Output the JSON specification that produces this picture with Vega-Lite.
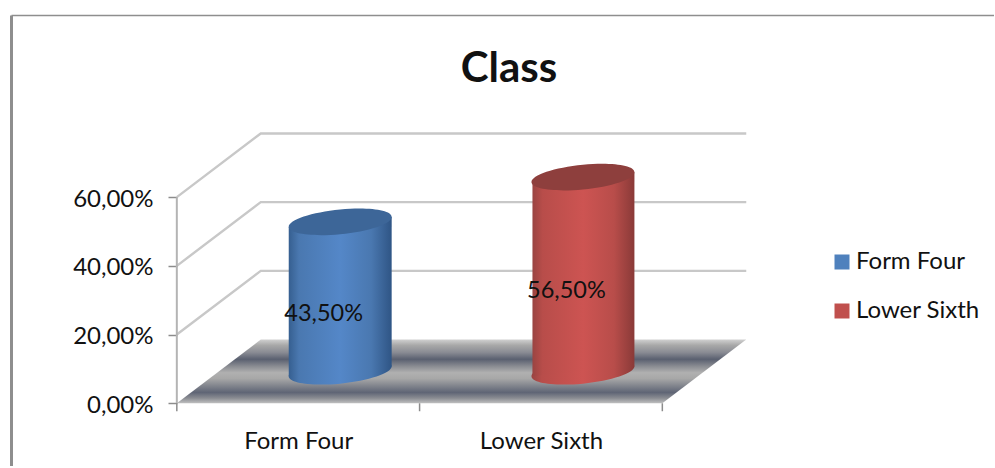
{
  "$schema": "https://vega.github.io/schema/vega-lite/v6.json",
  "width": 995,
  "height": 468,
  "padding": 0,
  "autosize": {"type": "fit", "contains": "padding"},
  "background": "white",
  "config": {
    "view": {"stroke": null},
    "font": "Lato",
    "locale": {"number": {"decimal": ",", "thousands": ".", "grouping": [3], "currency": ["", " €"]}}
  },
  "encoding": {
    "x": {
      "field": "x", "type": "quantitative", "title": null,
      "scale": {"domain": [-0.7284, 3.36626], "nice": false, "zero": false},
      "axis": {
        "values": [0.5, 1.5], "offset": -63, "domain": false, "grid": false, "ticks": false,
        "labelExpr": "datum.value < 1 ? 'Form Four' : 'Lower Sixth'",
        "labelFontSize": 24, "labelColor": "#111111", "labelPadding": 26, "labelFont": "Lato"
      }
    },
    "y": {
      "field": "y", "type": "quantitative", "title": null,
      "scale": {"domain": [-0.18261, 1.17391], "nice": false, "zero": false},
      "axis": {
        "values": [0, 0.2, 0.4, 0.6], "offset": -177, "format": ".2%", "domain": false, "grid": false,
        "tickColor": "#8c8c8c", "tickSize": 9, "tickWidth": 1.5,
        "labelFontSize": 24, "labelColor": "#111111", "labelPadding": 15, "labelFont": "Lato", "labelOffset": 2
      }
    }
  },
  "layer": [
    {
      "description": "Outer frame of the chart area: left edge",
      "data": {"values": [{"x": -0.681, "y": -0.18261, "y2": 1.129}]},
      "mark": {"type": "rule", "color": "#8e8e8e", "strokeWidth": 3},
      "encoding": {"y2": {"field": "y2"}}
    },
    {
      "description": "Outer frame of the chart area: top edge",
      "data": {"values": [{"x": -0.681, "x2": 3.36626, "y": 1.129}]},
      "mark": {"type": "rule", "color": "#8e8e8e", "strokeWidth": 1.5},
      "encoding": {"x2": {"field": "x2"}}
    },
    {
      "description": "Wall gridlines running back from the value axis and across the rear wall",
      "data": {"values": [
        {"line": "20", "x": 0, "y": 0.2},
        {"line": "20", "x": 0.3457, "y": 0.3855},
        {"line": "20", "x": 2.3457, "y": 0.3855},
        {"line": "40", "x": 0, "y": 0.4},
        {"line": "40", "x": 0.3457, "y": 0.5855},
        {"line": "40", "x": 2.3457, "y": 0.5855},
        {"line": "60", "x": 0, "y": 0.6},
        {"line": "60", "x": 0.3457, "y": 0.7855},
        {"line": "60", "x": 2.3457, "y": 0.7855}
      ]},
      "mark": {"type": "line", "color": "#c8c8c8", "strokeWidth": 2.4},
      "encoding": {"detail": {"field": "line"}}
    },
    {
      "description": "Value axis line",
      "data": {"values": [{"x": 0, "y": 0, "y2": 0.6}]},
      "mark": {"type": "rule", "color": "#b4b4b4", "strokeWidth": 2},
      "encoding": {"y2": {"field": "y2"}}
    },
    {
      "description": "Shaded chart floor",
      "data": {"values": [
        {"x": 0.3457, "x2": 2.3457, "y": 0.1855},
        {"x": 0, "x2": 2, "y": 0}
      ]},
      "mark": {
        "type": "area", "orient": "horizontal",
        "color": {
          "x1": 0, "y1": 0, "x2": 0, "y2": 1, "gradient": "linear",
          "stops": [
            {"offset": 0, "color": "#d0d0d0"},
            {"offset": 0.09, "color": "#a8a8a8"},
            {"offset": 0.2, "color": "#8a8c94"},
            {"offset": 0.31, "color": "#5a6070"},
            {"offset": 0.42, "color": "#8a8c92"},
            {"offset": 0.52, "color": "#b0b0b0"},
            {"offset": 0.61, "color": "#a8a8a8"},
            {"offset": 0.83, "color": "#5f6575"},
            {"offset": 0.92, "color": "#8a8c92"},
            {"offset": 1, "color": "#c0c0c0"}
          ]
        }
      },
      "encoding": {"x2": {"field": "x2"}}
    },
    {
      "description": "Tick marks under the category axis",
      "data": {"values": [
        {"x": 0, "y": 0, "y2": -0.0232},
        {"x": 1, "y": 0, "y2": -0.0232},
        {"x": 2, "y": 0, "y2": -0.0232}
      ]},
      "mark": {"type": "rule", "color": "#8c8c8c", "strokeWidth": 1.5},
      "encoding": {"y2": {"field": "y2"}}
    },
    {
      "description": "Zero-sized marks that carry the colour legend",
      "data": {"values": [
        {"series": "Form Four", "x": 0.5, "y": 0.2},
        {"series": "Lower Sixth", "x": 1.5, "y": 0.2}
      ]},
      "mark": {"type": "point", "filled": true, "opacity": 1},
      "encoding": {
        "size": {"value": 0},
        "color": {
          "field": "series", "type": "nominal",
          "scale": {"domain": ["Form Four", "Lower Sixth"], "range": ["#4f81bd", "#c0504d"]},
          "legend": {
            "title": null, "orient": "none", "legendX": 830, "legendY": 250, "symbolType": "square",
            "symbolSize": 225, "symbolStrokeWidth": 0, "labelFontSize": 24, "labelColor": "#111111",
            "labelFont": "Lato", "rowPadding": 25, "labelOffset": 2, "symbolOpacity": 1
          }
        }
      }
    },
    {
      "description": "Blue cylinder, base cap",
      "data": {"values": [{"x": 0.5, "y": 0}]},
      "mark": {
        "type": "point", "filled": true, "xOffset": 42, "yOffset": -32, "size": 10609, "opacity": 1, "strokeWidth": 0,
        "shape": "M1,-.096 C1,.037 .552,.187 0,.24 C-.552,.293 -1,.229 -1,.096 C-1,-.037 -.552,-.187 0,-.24 C.552,-.293 1,-.229 1,-.096 Z",
        "color": {"x1": 0, "y1": 0, "x2": 1, "y2": 0, "gradient": "linear", "stops": [
          {"offset": 0, "color": "#365f90"}, {"offset": 0.1, "color": "#4a78b0"}, {"offset": 0.5, "color": "#5487c8"}, {"offset": 0.8, "color": "#4a78b0"}, {"offset": 1, "color": "#2f5585"}
        ]}
      }
    },
    {
      "description": "Red cylinder, base cap",
      "data": {"values": [{"x": 1.5, "y": 0}]},
      "mark": {
        "type": "point", "filled": true, "xOffset": 42, "yOffset": -32, "size": 10609, "opacity": 1, "strokeWidth": 0,
        "shape": "M1,-.096 C1,.037 .552,.187 0,.24 C-.552,.293 -1,.229 -1,.096 C-1,-.037 -.552,-.187 0,-.24 C.552,-.293 1,-.229 1,-.096 Z",
        "color": {"x1": 0, "y1": 0, "x2": 1, "y2": 0, "gradient": "linear", "stops": [
          {"offset": 0, "color": "#9a4442"}, {"offset": 0.1, "color": "#b84d4a"}, {"offset": 0.5, "color": "#cd5452"}, {"offset": 0.8, "color": "#b84d4a"}, {"offset": 1, "color": "#8a3a38"}
        ]}
      }
    },
    {
      "description": "Blue cylinder, body",
      "data": {"values": [
        {"x": 0.461, "value": 0.435, "lean": -0.0145},
        {"x": 0.885, "value": 0.435, "lean": 0.0145}
      ]},
      "transform": [
        {"calculate": "datum.value + datum.lean + 0.0928", "as": "y"},
        {"calculate": "datum.lean + 0.0928", "as": "y2"}
      ],
      "mark": {
        "type": "area",
        "color": {"x1": 0, "y1": 0, "x2": 1, "y2": 0, "gradient": "linear", "stops": [
          {"offset": 0, "color": "#365f90"}, {"offset": 0.1, "color": "#4a78b0"}, {"offset": 0.5, "color": "#5487c8"}, {"offset": 0.8, "color": "#4a78b0"}, {"offset": 1, "color": "#2f5585"}
        ]}
      },
      "encoding": {"y2": {"field": "y2"}}
    },
    {
      "description": "Red cylinder, body",
      "data": {"values": [
        {"x": 1.465, "value": 0.565, "lean": -0.0145},
        {"x": 1.885, "value": 0.565, "lean": 0.0145}
      ]},
      "transform": [
        {"calculate": "datum.value + datum.lean + 0.0928", "as": "y"},
        {"calculate": "datum.lean + 0.0928", "as": "y2"}
      ],
      "mark": {
        "type": "area",
        "color": {"x1": 0, "y1": 0, "x2": 1, "y2": 0, "gradient": "linear", "stops": [
          {"offset": 0, "color": "#9a4442"}, {"offset": 0.1, "color": "#b84d4a"}, {"offset": 0.5, "color": "#cd5452"}, {"offset": 0.8, "color": "#b84d4a"}, {"offset": 1, "color": "#8a3a38"}
        ]}
      },
      "encoding": {"y2": {"field": "y2"}}
    },
    {
      "description": "Top caps of the cylinders, placed at each class share",
      "data": {"values": [
        {"series": "Form Four", "x": 0.5, "y": 0.435, "cap": "#3d6698"},
        {"series": "Lower Sixth", "x": 1.5, "y": 0.565, "cap": "#8e3f3d"}
      ]},
      "mark": {
        "type": "point", "filled": true, "xOffset": 42, "yOffset": -32, "size": 10609, "opacity": 1, "strokeWidth": 0,
        "shape": "M1,-.096 C1,.037 .552,.187 0,.24 C-.552,.293 -1,.229 -1,.096 C-1,-.037 -.552,-.187 0,-.24 C.552,-.293 1,-.229 1,-.096 Z"
      },
      "encoding": {"fill": {"field": "cap", "type": "nominal", "scale": null}}
    },
    {
      "description": "Share labels, halfway up each cylinder",
      "data": {"values": [
        {"x": 0.5, "share": 0.435},
        {"x": 1.5, "share": 0.565}
      ]},
      "transform": [{"calculate": "datum.share / 2", "as": "y"}],
      "mark": {"type": "text", "fontSize": 23.5, "font": "Lato", "color": "#111111", "xOffset": 25.5, "yOffset": -15},
      "encoding": {"text": {"field": "share", "type": "quantitative", "format": ".2%"}}
    },
    {
      "description": "Chart heading",
      "data": {"values": [{"x": 1.368, "y": 0.974, "heading": "Class"}]},
      "mark": {"type": "text", "fontSize": 42, "fontWeight": "bold", "font": "Lato", "color": "#111111"},
      "encoding": {"text": {"field": "heading"}}
    }
  ]
}
